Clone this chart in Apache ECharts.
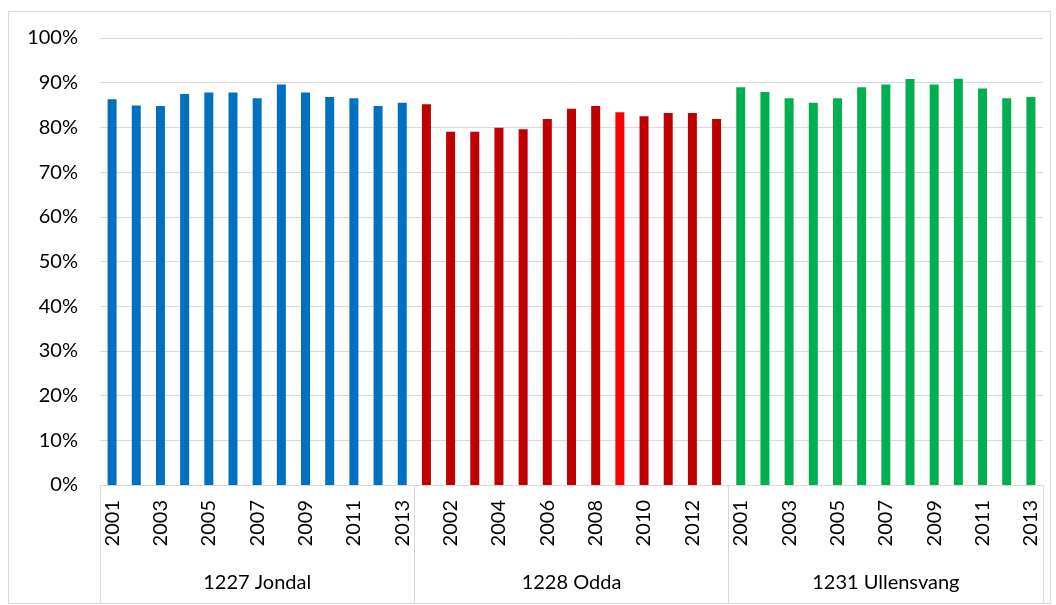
<!DOCTYPE html>
<html>
<head>
<meta charset="utf-8">
<script src="https://cdn.jsdelivr.net/npm/echarts@6/dist/echarts.min.js"></script>
<style>
  html, body { margin: 0; padding: 0; background: #fff; }
  #frame { position: absolute; left: 8px; top: 11px; width: 1041px; height: 591px; border: 1px solid #d9d9d9; }
  #chart { position: absolute; left: 0; top: 0; width: 1056px; height: 605px; }
</style>
</head>
<body>
<div id="frame"></div>
<div id="chart"></div>
<script>
'use strict';

// ---- data ----
const years = ['2001', '2002', '2003', '2004', '2005', '2006', '2007', '2008', '2009', '2010', '2011', '2012', '2013'];
const groups = ['1227 Jondal', '1228 Odda', '1231 Ullensvang'];
const jondal = [86.3, 84.9, 84.8, 87.5, 87.8, 87.8, 86.5, 89.6, 87.8, 86.8, 86.5, 84.8, 85.5];
const odda = [85.2, 79.0, 79.0, 79.9, 79.6, 81.9, 84.2, 84.8, 83.4, 82.5, 83.2, 83.2, 81.9];
const ullensvang = [89.0, 87.9, 86.5, 85.5, 86.5, 89.0, 89.6, 90.8, 89.6, 90.9, 88.7, 86.5, 86.8];

// ---- palette ----
const C = { jondal: '#0070c0', odda: '#c00000', oddaHi: '#ff0000', ullensvang: '#00b050', grid: '#d9d9d9', ink: '#000' };
const groupColors = [C.jondal, C.odda, C.ullensvang];
const highlight = { group: 1, index: 8, color: C.oddaHi }; // Odda 2009 drawn in bright red

const font = 'Lato, "Open Sans", sans-serif';
const cats = groups.flatMap(() => years);
const bars = [jondal, odda, ullensvang].flatMap((vals, g) =>
  vals.map((v, i) => ({
    value: v / 100,
    itemStyle: { color: (g === highlight.group && i === highlight.index) ? highlight.color : groupColors[g] }
  })));

const chart = echarts.init(document.getElementById('chart'));
chart.setOption({
  animation: false,
  textStyle: { fontFamily: font },
  grid: { left: 100, right: 13, top: 38, bottom: 120 },
  xAxis: [
    {
      type: 'category', data: cats, position: 'bottom',
      axisLine: { show: true, lineStyle: { color: C.grid } },
      axisTick: { show: false },
      axisLabel: { interval: 1, rotate: 90, margin: 15, fontSize: 20, color: C.ink, fontFamily: font }
    },
    {
      type: 'category', data: groups, position: 'bottom', offset: 118,
      axisLine: { show: true, lineStyle: { color: C.grid } },
      axisTick: { show: true, inside: true, length: 118, interval: 0, lineStyle: { color: C.grid } },
      axisLabel: { inside: true, margin: 10, fontSize: 20, color: C.ink, fontFamily: font }
    }
  ],
  yAxis: {
    type: 'value', min: 0, max: 1, interval: 0.1,
    axisLine: { show: false }, axisTick: { show: false },
    axisLabel: { margin: 22, fontSize: 20, color: C.ink, fontFamily: font, formatter: v => Math.round(v * 100) + '%' },
    splitLine: { lineStyle: { color: C.grid } }
  },
  series: [{
    type: 'bar', xAxisIndex: 0, barWidth: 9, data: bars
  }]
});
</script>
</body>
</html>
